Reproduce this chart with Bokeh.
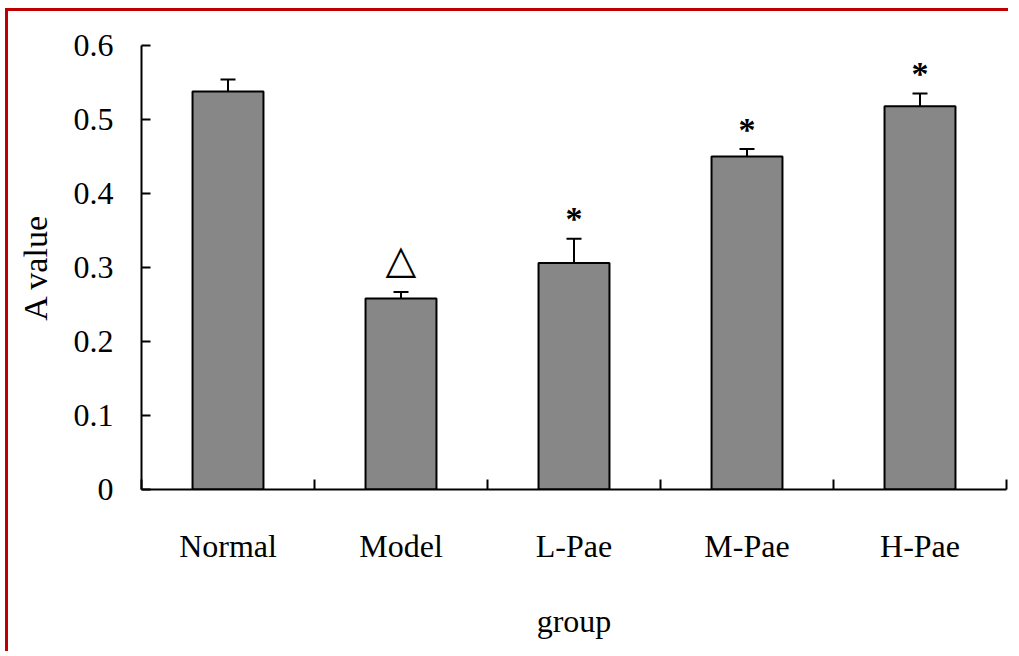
from bokeh.plotting import figure
from bokeh.models import ColumnDataSource, Whisker, TeeHead, FixedTicker
from bokeh.core.properties import value
from bokeh.embed import file_html
from bokeh.resources import INLINE

# ---- data ----
groups = ["Normal", "Model", "L-Pae", "M-Pae", "H-Pae"]
means = [0.538, 0.258, 0.306, 0.450, 0.518]
errors = [0.016, 0.009, 0.033, 0.010, 0.017]
marks = ["", "△", "*", "*", "*"]
y_ticks = [0, 0.1, 0.2, 0.3, 0.4, 0.5, 0.6]
y_tick_labels = ["0", "0.1", "0.2", "0.3", "0.4", "0.5", "0.6"]
x_label = "group"
y_label = "A value"

FONT = "Liberation Serif"

xs = [i + 0.5 for i in range(len(groups))]
upper = [m + e for m, e in zip(means, errors)]
src = ColumnDataSource(dict(x=xs, top=means, upper=upper))

star_src = ColumnDataSource(dict(
    x=[x for x, m in zip(xs, marks) if m == "*"],
    y=[u for u, m in zip(upper, marks) if m == "*"],
    t=[m for m in marks if m == "*"]))
tri_src = ColumnDataSource(dict(
    x=[x for x, m in zip(xs, marks) if m == "△"],
    y=[u for u, m in zip(upper, marks) if m == "△"],
    t=[m for m in marks if m == "△"]))

p = figure(width=1003, height=643, x_range=(0, len(groups)), y_range=(0, 0.6),
           output_backend="svg", toolbar_location=None,
           min_border_left=133, min_border_right=5, min_border_top=34,
           min_border_bottom=165)
p.styles = {"border-top": "3px solid #c00000", "border-left": "3px solid #c00000",
            "margin-left": "5px", "margin-top": "8px"}
p.outline_line_color = None
p.grid.visible = False
p.background_fill_color = "white"

p.vbar(x="x", top="top", bottom=0, width=0.41, source=src,
       fill_color="#878787", line_color="black", line_width=2)

wh = Whisker(base="x", lower="top", upper="upper", source=src, dimension="height",
             line_color="black", line_width=2,
             upper_head=TeeHead(size=15, line_color="black", line_width=2),
             lower_head=None)
p.add_layout(wh)

p.text(x="x", y="y", text="t", source=star_src, text_font=value(FONT),
       text_font_size="34px", text_font_style="bold", text_align="center",
       text_baseline="middle", y_offset=-20, text_color="black")
p.text(x="x", y="y", text="t", source=tri_src, text_font=value("DejaVu Sans"),
       text_font_size="40px", text_align="center",
       text_baseline="alphabetic", y_offset=-33, text_color="black")

# x axis: labels at centres, boundary ticks as minor ticks
xa = p.xaxis[0]
xa.ticker = FixedTicker(ticks=xs, minor_ticks=list(range(len(groups) + 1)))
xa.major_label_overrides = {x: g for x, g in zip(xs, groups)}
xa.major_tick_in = 0
xa.major_tick_out = 0
xa.minor_tick_in = 10
xa.minor_tick_out = 0
xa.minor_tick_line_color = "black"
xa.minor_tick_line_width = 2
xa.axis_line_color = "black"
xa.axis_line_width = 2
xa.major_label_standoff = 38
xa.major_label_text_font = FONT
xa.major_label_text_font_size = "32px"
xa.major_label_text_color = "black"
xa.axis_label = x_label
xa.axis_label_text_font = FONT
xa.axis_label_text_font_size = "32px"
xa.axis_label_text_font_style = "normal"
xa.axis_label_text_color = "black"
xa.axis_label_standoff = 36

ya = p.yaxis[0]
ya.ticker = FixedTicker(ticks=y_ticks)
ya.major_label_overrides = {t: l for t, l in zip(y_ticks, y_tick_labels)}
ya.major_tick_in = 9
ya.major_tick_out = 0
ya.major_tick_line_color = "black"
ya.major_tick_line_width = 2
ya.minor_tick_line_color = None
ya.axis_line_color = "black"
ya.axis_line_width = 2
ya.major_label_standoff = 28
ya.major_label_text_font = FONT
ya.major_label_text_font_size = "32px"
ya.major_label_text_color = "black"
ya.axis_label = y_label
ya.axis_label_text_font = FONT
ya.axis_label_text_font_size = "34px"
ya.axis_label_text_font_style = "normal"
ya.axis_label_text_color = "black"
ya.axis_label_standoff = 17

open("out.html", "w").write(file_html(p, INLINE))
